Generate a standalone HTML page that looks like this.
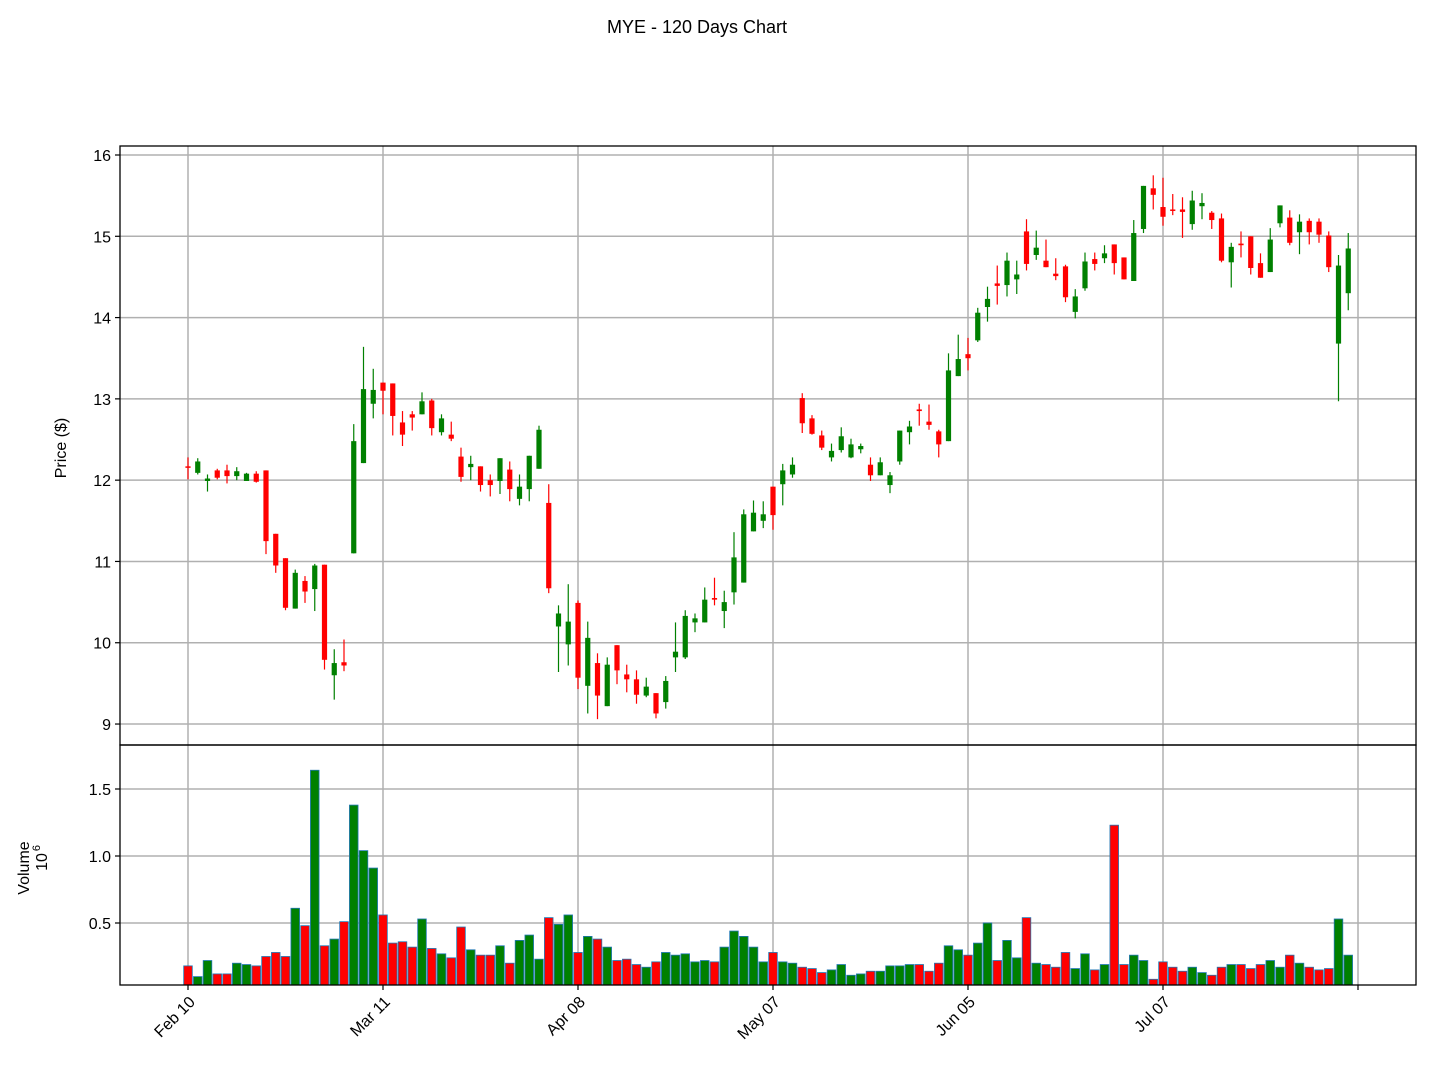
<!DOCTYPE html>
<html><head><meta charset="utf-8"><style>
html,body{margin:0;padding:0;background:#fff;}
svg{display:block;font-family:"Liberation Sans","DejaVu Sans",sans-serif;}
</style></head><body>
<svg id="chart" width="1431" height="1084" viewBox="0 0 1431 1084" xmlns="http://www.w3.org/2000/svg">
<text x="697" y="33" font-size="18" text-anchor="middle" fill="#000">MYE - 120 Days Chart</text>
<g id="grid"></g>
<g id="marks"></g>
<g id="axes"></g>
</svg>
<script>
const opens=[12.17,12.09,11.99,12.12,12.12,12.05,11.99,12.08,12.12,11.34,11.04,10.42,10.76,10.66,10.96,9.60,9.76,11.10,12.21,12.94,13.20,13.19,12.71,12.81,12.81,12.98,12.59,12.56,12.29,12.16,12.17,12.00,11.99,12.13,11.77,11.89,12.14,11.72,10.20,9.98,10.49,9.47,9.75,9.22,9.97,9.61,9.55,9.35,9.38,9.27,9.82,9.82,10.25,10.25,10.55,10.39,10.62,10.74,11.37,11.50,11.92,11.95,12.07,13.01,12.76,12.55,12.28,12.37,12.28,12.38,12.19,12.06,11.94,12.23,12.59,12.87,12.72,12.60,12.48,13.28,13.55,13.72,14.13,14.42,14.40,14.47,15.06,14.77,14.70,14.54,14.63,14.07,14.36,14.72,14.73,14.90,14.74,14.45,15.09,15.59,15.36,15.33,15.33,15.15,15.37,15.29,15.22,14.68,14.91,15.00,14.67,14.56,15.16,15.23,15.05,15.19,15.18,15.01,13.68,14.30];
const highs=[12.28,12.27,12.07,12.14,12.19,12.16,12.09,12.11,12.12,11.34,11.04,10.90,10.82,10.97,10.96,9.92,10.04,12.69,13.64,13.37,13.20,13.19,12.85,12.85,13.08,13.00,12.81,12.72,12.40,12.30,12.17,12.07,12.27,12.23,12.07,12.30,12.67,11.95,10.46,10.72,10.52,10.26,9.87,9.82,9.97,9.73,9.66,9.57,9.38,9.59,10.25,10.40,10.36,10.68,10.80,10.64,11.36,11.64,11.75,11.74,11.92,12.20,12.28,13.07,12.80,12.61,12.45,12.65,12.51,12.45,12.28,12.28,12.10,12.61,12.73,12.94,12.93,12.62,13.56,13.79,13.75,14.12,14.38,14.64,14.80,14.70,15.21,15.07,14.96,14.73,14.65,14.35,14.80,14.80,14.89,14.90,14.74,15.20,15.62,15.75,15.72,15.52,15.48,15.56,15.53,15.31,15.28,14.92,15.06,15.00,14.79,15.10,15.38,15.32,15.27,15.22,15.22,15.06,14.77,15.04];
const lows=[12.01,12.07,11.86,12.01,11.96,12.00,11.99,11.97,11.09,10.86,10.40,10.42,10.49,10.39,9.67,9.30,9.65,11.10,12.21,12.76,12.81,12.55,12.42,12.61,12.81,12.55,12.55,12.48,11.98,12.00,11.86,11.80,11.83,11.74,11.69,11.74,12.14,10.61,9.64,9.72,9.43,9.13,9.06,9.22,9.49,9.39,9.25,9.33,9.07,9.19,9.64,9.80,10.13,10.25,10.46,10.18,10.47,10.74,11.37,11.41,11.39,11.69,12.03,12.58,12.56,12.37,12.23,12.34,12.27,12.33,11.99,12.06,11.84,12.19,12.44,12.67,12.62,12.28,12.48,13.28,13.35,13.70,13.95,14.16,14.26,14.29,14.58,14.71,14.62,14.46,14.19,13.99,14.33,14.58,14.67,14.53,14.47,14.45,15.04,15.33,15.13,15.26,14.98,15.08,15.21,15.09,14.68,14.37,14.74,14.53,14.49,14.56,15.11,14.89,14.78,14.90,14.92,14.56,12.97,14.09];
const closes=[12.16,12.23,12.02,12.03,12.05,12.11,12.08,11.98,11.25,10.95,10.43,10.86,10.63,10.95,9.79,9.75,9.72,12.48,13.12,13.11,13.10,12.79,12.56,12.77,12.97,12.64,12.76,12.51,12.04,12.20,11.94,11.94,12.27,11.89,11.92,12.30,12.62,10.67,10.36,10.26,9.57,10.06,9.35,9.73,9.66,9.55,9.36,9.46,9.13,9.53,9.89,10.33,10.30,10.53,10.53,10.50,11.05,11.58,11.60,11.58,11.57,12.12,12.19,12.70,12.57,12.40,12.36,12.54,12.44,12.42,12.06,12.22,12.06,12.61,12.66,12.85,12.68,12.44,13.35,13.49,13.50,14.06,14.23,14.39,14.70,14.53,14.66,14.86,14.62,14.51,14.25,14.26,14.69,14.66,14.79,14.67,14.47,15.04,15.62,15.51,15.24,15.32,15.30,15.44,15.41,15.20,14.70,14.87,14.89,14.61,14.49,14.96,15.38,14.92,15.18,15.05,15.02,14.62,14.64,14.85];
const volumes=[0.18,0.10,0.22,0.12,0.12,0.20,0.19,0.18,0.25,0.28,0.25,0.61,0.48,1.64,0.33,0.38,0.51,1.38,1.04,0.91,0.56,0.35,0.36,0.32,0.53,0.31,0.27,0.24,0.47,0.30,0.26,0.26,0.33,0.20,0.37,0.41,0.23,0.54,0.49,0.56,0.28,0.40,0.38,0.32,0.22,0.23,0.19,0.17,0.21,0.28,0.26,0.27,0.21,0.22,0.21,0.32,0.44,0.40,0.32,0.21,0.28,0.21,0.20,0.17,0.16,0.13,0.15,0.19,0.11,0.12,0.14,0.14,0.18,0.18,0.19,0.19,0.14,0.20,0.33,0.30,0.26,0.35,0.50,0.22,0.37,0.24,0.54,0.20,0.19,0.17,0.28,0.16,0.27,0.15,0.19,1.23,0.19,0.26,0.22,0.08,0.21,0.17,0.14,0.17,0.13,0.11,0.17,0.19,0.19,0.16,0.19,0.22,0.17,0.26,0.20,0.17,0.15,0.16,0.53,0.26];
const xTickIdx=[0,20,40,60,80,100,120];
const xTickLabels=["Feb 10","Mar 11","Apr 08","May 07","Jun 05","Jul 07",""];
const priceTicks=[9,10,11,12,13,14,15,16];
const volTicks=[0.5,1.0,1.5];

const NS="http://www.w3.org/2000/svg";
const L=120,R=1416,PT=146,PB=745,VT=745,VB=985;
const X=i=>188+9.75*i;
const PY=p=>155+(16-p)*81.29;
const VY=v=>990-v*134;
function mk(parent,tag,attrs,text){const e=document.createElementNS(NS,tag);for(const k in attrs)e.setAttribute(k,attrs[k]);if(text!==undefined)e.textContent=text;document.getElementById(parent).appendChild(e);return e;}

xTickIdx.forEach((t,k)=>{
  if(X(t)<R){
  const g1=mk('grid','line',{x1:X(t),x2:X(t),y1:PT,y2:PB,stroke:'#b0b0b0','stroke-width':1.5});
  
  
  const g2=mk('grid','line',{x1:X(t),x2:X(t),y1:VT,y2:VB,stroke:'#b0b0b0','stroke-width':1.5});
  
  
  }
});
priceTicks.forEach(p=>{
  const g=mk('grid','line',{x1:L,x2:R,y1:PY(p),y2:PY(p),stroke:'#b0b0b0','stroke-width':1.5});
  
  
  const t=mk('axes','line',{x1:L-5,x2:L,y1:PY(p),y2:PY(p),stroke:'#000','stroke-width':1.2});
  
  
  const lb=mk('axes','text',{x:L-9,y:PY(p)+6,'font-size':16,'text-anchor':'end',fill:'#000'},String(p));
  
  
});
volTicks.forEach(v=>{
  const g=mk('grid','line',{x1:L,x2:R,y1:VY(v),y2:VY(v),stroke:'#b0b0b0','stroke-width':1.5});
  
  
  const t=mk('axes','line',{x1:L-5,x2:L,y1:VY(v),y2:VY(v),stroke:'#000','stroke-width':1.2});
  
  
  const lb=mk('axes','text',{x:L-9,y:VY(v)+6,'font-size':16,'text-anchor':'end',fill:'#000'},v.toFixed(1));
  
  
});

opens.forEach((o,i)=>{
  const c=closes[i],up=c>o,col=up?'#008000':'#ff0000',x=X(i);
  const w=mk('marks','line',{x1:x,x2:x,y1:PY(highs[i]),y2:PY(lows[i]),stroke:col,'stroke-width':1.2});
  
  
  const top=PY(Math.max(o,c)),bot=PY(Math.min(o,c));
  const b=mk('marks','rect',{x:x-2.6,y:top,width:5.2,height:Math.max(bot-top,1.5),fill:col});
  
  
  const vb=mk('marks','rect',{x:x-4.3,y:VY(volumes[i]),width:8.6,height:VB-VY(volumes[i]),fill:col,stroke:'#1f77b4','stroke-width':0.8});
  
  
});

[[PT,PB,'price-axes-frame'],[VT,VB,'volume-axes-frame']].forEach(a=>{
  const f=mk('axes','rect',{x:L,y:a[0],width:R-L,height:a[1]-a[0],fill:'none',stroke:'#000','stroke-width':1.3});
  
  
});
xTickIdx.forEach((t,k)=>{
  const x=X(t);
  const tk=mk('axes','line',{x1:x,x2:x,y1:VB,y2:VB+5,stroke:'#000','stroke-width':1.2});
  
  
  if(xTickLabels[k]){
    const ax=x+8,ay=VB+18;
    const lb=mk('axes','text',{x:ax,y:ay,'font-size':16,'text-anchor':'end',fill:'#000',transform:`rotate(-45 ${ax} ${ay})`},xTickLabels[k]);
    
    
  }
});
let yl=mk('axes','text',{x:66,y:448,'font-size':16,'text-anchor':'middle',fill:'#000',transform:'rotate(-90 66 448)'},'Price ($)');


yl=mk('axes','text',{x:29,y:868,'font-size':16,'text-anchor':'middle',fill:'#000',transform:'rotate(-90 29 868)'},'Volume');


yl=mk('axes','text',{x:47,y:862,'font-size':16,'text-anchor':'middle',fill:'#000',transform:'rotate(-90 47 862)'},'10');


yl=mk('axes','text',{x:40,y:848,'font-size':11,'text-anchor':'middle',fill:'#000',transform:'rotate(-90 40 848)'},'6');


</script>
</body></html>
